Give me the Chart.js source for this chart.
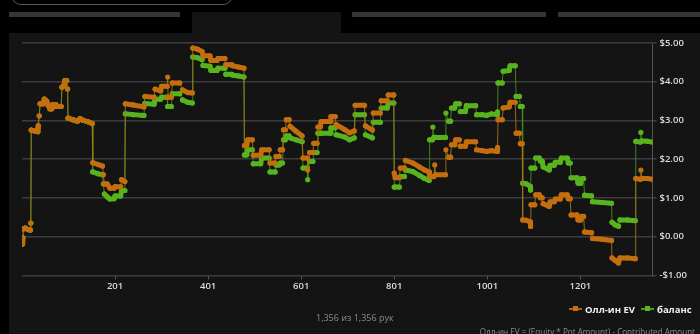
<!DOCTYPE html>
<html>
<head>
<meta charset="utf-8">
<script src="https://cdn.jsdelivr.net/npm/chart.js@4.4.1/dist/chart.umd.min.js"></script>
<style>
  html, body { margin: 0; padding: 0; background: #000; }
  body { width: 700px; height: 334px; overflow: hidden; position: relative; font-family: "Open Sans", sans-serif; }
  .abs { position: absolute; }
  #panel { left: 9px; top: 33px; width: 691px; height: 301px; background: #141414; }
  #topblock { left: 192px; top: 12px; width: 149px; height: 21px; background: #141414; }
  .bar { top: 12px; height: 5px; background: #353535; }
  #roundbox { left: 11px; top: -22px; width: 220px; height: 25px; border: 1px solid #5a5a5a; border-radius: 10px; }
  #chartWrap { left: 0; top: 0; width: 700px; height: 334px; }
  #legend { top: 302px; left: 569px; height: 14px; display: flex; align-items: center; font-size: 9.5px; font-weight: 700; color: #f0f0f0; white-space: nowrap; }
  .mk { position: relative; width: 13px; height: 2px; margin-right: 3px; }
  .mk span { position: absolute; left: 4px; top: -2px; width: 5px; height: 5px; }
  #count { left: 316px; top: 311px; font-size: 9px; color: #8c8c8c; white-space: nowrap; }
  #formula { right: 5px; top: 326px; font-size: 8.1px; color: #8c8c8c; white-space: nowrap; line-height: 12px; }
</style>
</head>
<body>
<div id="roundbox" class="abs"></div>
<div class="abs bar" style="left:9px;width:171px"></div>
<div class="abs bar" style="left:352px;width:194px"></div>
<div class="abs bar" style="left:558px;width:142px"></div>
<div id="topblock" class="abs"></div>
<div id="panel" class="abs"></div>
<div id="chartWrap" class="abs"><canvas id="c" width="700" height="334"></canvas></div>
<div id="legend" class="abs">
  <div class="mk" style="background:#a8660f"><span style="background:#c8700f"></span></div><span style="margin-right:6px">Олл-ин EV</span>
  <div class="mk" style="background:#4a9a1c"><span style="background:#5cb820"></span></div><span>баланс</span>
</div>
<div id="count" class="abs">1,356 из 1,356 рук</div>
<div id="formula" class="abs">Олл-ин EV = (Equity * Pot Amount) - Contributed Amount</div>
<script>
const seriesNames = ["Олл-ин EV", "баланс"];
const xTickValues = [201, 401, 601, 801, 1001, 1201];
const yTickValues = [-1, 0, 1, 2, 3, 4, 5];

const hands = [
  1,2,3,4,8,14,19,20,21,28,35,36,38,40,47,49,54,57,61,65,67,72,74,85,87,91,93,97,99,
  100,110,120,126,132,142,152,
  153,165,174,176,178,184,190,199,201,213,215,222,
  223,240,263,265,285,287,299,301,313,314,315,322,324,340,346,357,367,
  368,378,388,390,405,407,420,422,437,439,452,454,466,478,
  479,484,486,496,498,514,516,532,534,545,547,554,556,561,563,567,569,575,577,590,603,
  605,614,615,619,626,628,635,637,642,644,663,665,674,676,695,705,715,717,737,739,754,756,771,773,786,788,800,
  801,803,812,814,823,825,841,855,866,876,877,883,884,886,888,890,911,912,918,922,924,931,933,941,943,954,956,976,978,990,999,1010,1022,1023,
  1024,1033,1035,1048,1050,1061,1063,1070,1072,1076,1077,1085,1093,1094,1095,1103,1105,1113,1115,1119,1121,1134,1136,1145,1147,1158,1160,1173,1175,1179,1181,1194,1196,1202,
  1204,1208,1210,1225,1227,1248,1268,1269,1276,1283,1286,1302,1319,1320,1330,1331,1333,1345,1356
];

const allInEV = [
  -0.19,-0.1,-0.03,0.2,0.22,0.18,0.17,0.35,2.75,2.73,2.71,2.86,3.12,3.43,3.43,3.55,3.5,3.4,3.3,3.3,3.41,3.41,3.36,3.36,3.86,3.9,4.03,4.03,3.81,
  3.06,3.02,2.98,3.05,3.0,2.97,2.92,
  1.91,1.86,1.82,1.6,1.36,1.36,1.25,1.25,1.29,1.29,1.47,1.42,
  3.43,3.4,3.35,3.62,3.6,3.81,3.76,3.88,3.88,4.12,3.6,3.6,3.97,3.97,3.79,3.72,3.71,
  4.87,4.84,4.78,4.67,4.67,4.55,4.55,4.6,4.6,4.44,4.44,4.41,4.38,4.35,
  2.35,2.35,2.5,2.5,2.1,2.1,2.24,2.24,1.9,1.9,2.07,2.07,2.24,2.24,2.76,2.76,3.02,3.02,2.85,2.72,2.6,
  2.03,2.03,1.72,2.17,2.17,2.41,2.41,2.83,2.83,2.97,2.97,3.1,3.1,2.89,2.76,2.68,2.73,3.39,3.39,2.86,2.75,3.19,3.19,3.51,3.51,3.66,3.66,
  1.64,1.52,1.52,1.77,1.77,1.97,1.9,1.8,1.72,1.67,1.55,1.55,1.55,1.55,1.85,1.6,1.6,2.24,2.05,2.05,2.37,2.37,2.5,2.5,2.33,2.33,2.45,2.45,2.24,2.22,2.2,2.22,2.2,2.3,
  3.02,3.02,3.32,3.35,3.47,3.47,2.67,2.67,2.4,2.4,0.43,0.42,0.38,0.26,0.82,0.82,1.08,1.08,1.0,1.0,0.85,0.78,0.9,0.9,0.97,0.97,1.08,1.08,0.98,0.98,0.56,0.56,0.43,0.43,
  0.52,0.52,0.12,0.1,-0.05,-0.07,-0.1,-0.55,-0.62,-0.68,-0.55,-0.55,-0.57,1.5,1.48,1.72,1.5,1.5,1.48
];

const balance = [
  -0.19,-0.1,-0.03,0.2,0.22,0.18,0.17,0.35,2.75,2.73,2.71,2.86,3.12,3.43,3.43,3.55,3.5,3.4,3.3,3.3,3.41,3.41,3.36,3.36,3.86,3.9,4.03,4.03,3.81,
  3.06,3.02,2.98,3.05,3.0,2.97,2.92,
  1.67,1.62,1.6,1.36,1.1,1.03,0.97,0.98,1.05,1.05,1.19,1.19,
  3.17,3.15,3.13,3.44,3.42,3.55,3.55,3.6,3.6,3.36,3.36,3.36,3.69,3.69,3.53,3.47,3.45,
  4.64,4.62,4.57,4.42,4.4,4.29,4.29,4.35,4.35,4.19,4.19,4.17,4.15,4.12,
  2.11,2.11,2.24,2.24,1.88,1.88,2.03,2.03,1.67,1.67,1.85,1.85,1.9,1.9,2.5,2.5,2.6,2.6,2.55,2.5,2.45,
  1.77,1.77,1.47,1.94,1.94,2.17,2.17,2.67,2.67,2.67,2.67,2.81,2.81,2.63,2.57,2.5,2.55,3.15,3.15,2.63,2.55,2.95,2.95,3.32,3.32,3.45,3.45,
  1.28,1.28,1.28,1.55,1.55,1.72,1.68,1.58,1.5,1.45,2.5,2.5,2.83,2.56,2.56,2.56,2.56,3.19,2.98,2.98,3.32,3.32,3.43,3.43,3.23,3.23,3.38,3.38,3.15,3.15,3.13,3.17,3.15,3.22,
  3.97,3.97,4.27,4.29,4.41,4.41,3.62,3.62,3.36,3.36,1.38,1.36,1.3,1.2,1.77,1.77,2.03,2.03,1.95,1.95,1.8,1.72,1.84,1.84,1.92,1.92,2.03,2.03,1.9,1.9,1.52,1.52,1.38,1.38,
  1.5,1.5,1.07,1.05,0.9,0.88,0.86,0.37,0.3,0.27,0.43,0.43,0.41,2.46,2.44,2.69,2.47,2.46,2.44
];

function toPoints(vals) { return hands.map((h, i) => ({ x: h, y: vals[i] })); }

function makeDataset(label, vals, main, thin) {
  const isJump = ctx => Math.abs(ctx.p1.parsed.y - ctx.p0.parsed.y) > 0.15;
  return {
    label: label,
    data: toPoints(vals),
    borderColor: main,
    backgroundColor: main,
    borderWidth: 5,
    borderCapStyle: 'round',
    borderJoinStyle: 'round',
    pointRadius: 2.6,
    pointBorderWidth: 0,
    pointBackgroundColor: main,
    tension: 0,
    segment: {
      borderWidth: ctx => isJump(ctx) ? 1 : 5,
      borderColor: ctx => isJump(ctx) ? thin : main
    }
  };
}

const tickFont = { family: "'Open Sans', sans-serif", size: 9.5, weight: '600' };

new Chart(document.getElementById('c'), {
  type: 'line',
  data: {
    datasets: [
      makeDataset(seriesNames[0], allInEV, '#c46e0e', 'rgba(160,120,20,0.9)'),
      makeDataset(seriesNames[1], balance, '#58b41e', 'rgba(70,140,25,0.9)')
    ]
  },
  options: {
    responsive: false,
    animation: false,
    events: [],
    layout: { padding: { left: 22, top: 43, right: 0, bottom: 0 } },
    plugins: { legend: { display: false }, tooltip: { enabled: false } },
    scales: {
      x: {
        type: 'linear',
        min: 1,
        max: 1356,
        afterBuildTicks: s => { s.ticks = xTickValues.map(v => ({ value: v })); },
        afterFit: s => { s.height = 58.7; },
        grid: { drawOnChartArea: false, drawTicks: true, tickLength: 4, color: '#5a5a5a' },
        border: { display: false },
        ticks: { color: '#dcdcdc', font: tickFont, padding: 1, maxRotation: 0, autoSkip: false,
                 callback: v => String(v) }
      },
      y: {
        position: 'right',
        min: -1,
        max: 5,
        afterBuildTicks: s => { s.ticks = yTickValues.map(v => ({ value: v })); },
        afterFit: s => { s.width = 47.5; },
        grid: { color: '#3c3c3c', lineWidth: 1.5, tickLength: 4, drawTicks: true },
        border: { display: true, color: '#555555', width: 1 },
        ticks: { color: '#dcdcdc', font: tickFont, padding: 3,
                 callback: v => (v < 0 ? '-$' : '$') + Math.abs(v).toFixed(2) }
      }
    }
  }
});
</script>
</body>
</html>
